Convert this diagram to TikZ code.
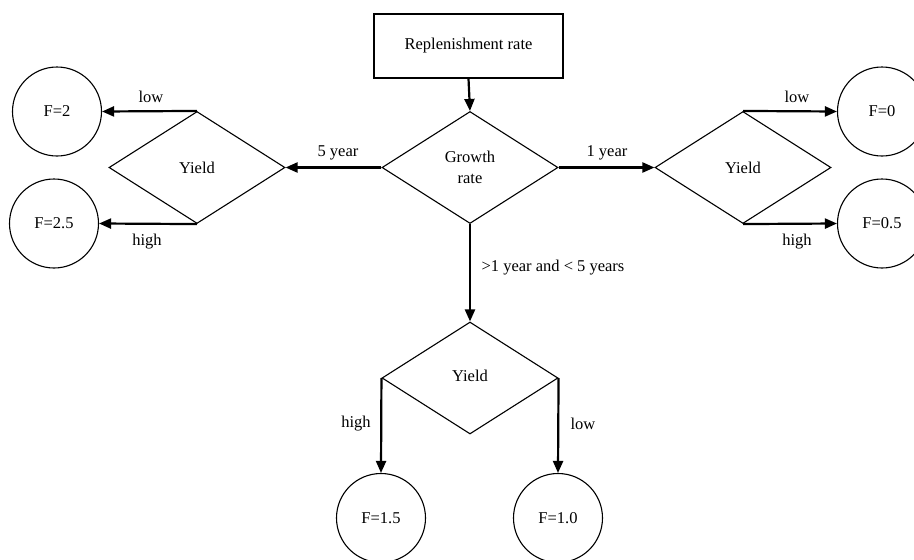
\documentclass[tikz,border=0pt]{standalone}
\usepackage{fontspec}
\setmainfont{Liberation Serif}
\usetikzlibrary{shapes.geometric,arrows.meta}
\begin{document}
\begin{tikzpicture}[x=1pt,y=-1pt,
  every node/.style={font=\fontsize{16.5}{21}\selectfont},
  box/.style={draw,line width=1.1pt,rectangle,minimum width=189pt,minimum height=64pt,inner sep=0pt},
  dec/.style={draw,line width=1.1pt,diamond,minimum width=176pt,minimum height=112pt,inner sep=0pt,align=center},
  res/.style={draw,line width=1.1pt,circle,minimum size=89pt,inner sep=0pt},
  conn/.style={line width=2.2pt,-{Triangle[length=12pt,width=10pt]}},
  lbl/.style={inner sep=0pt}]
\useasboundingbox (0,0) rectangle (914,560);
\fill[white] (0,0) rectangle (914,560);
\node[box] (rep) at (468.5,46) {Replenishment rate};
\node[dec] (gr) at (470,167.5) {Growth\\rate};
\node[dec] (yl) at (197,167.5) {Yield};
\node[dec] (yr) at (743,167.5) {Yield};
\node[dec] (yb) at (470,378) {};
\node at (470,376) {Yield};
\node[res] (f2) at (57,111.5) {F=2};
\node[res] (f25) at (54,223.5) {F=2.5};
\node[res] (f0) at (882,111.5) {F=0};
\node[res] (f05) at (882,223.5) {F=0.5};
\node[res] (f15) at (381,518) {F=1.5};
\node[res] (f10) at (558,518) {F=1.0};
\draw[conn] (rep.south) -- (gr.north);
\draw[conn] (gr.west) -- (yl.east);
\draw[conn] (gr.east) -- (yr.west);
\draw[conn] (gr.south) -- (yb.north);
\draw[conn] (yl.north) -- (f2.east);
\draw[conn] (yl.south) -- (f25.east);
\draw[conn] (yr.north) -- (f0.west);
\draw[conn] (yr.south) -- (f05.west);
\draw[conn] (yb.west) -- (f15.north);
\draw[conn] (yb.east) -- (f10.north);
\node[lbl] at (151,97) {low};
\node[lbl] at (147,242) {high};
\node[lbl] at (338,153) {5 year};
\node[lbl] at (607,153) {1 year};
\node[lbl] at (553,268) {>1 year and < 5 years};
\node[lbl] at (797,97) {low};
\node[lbl] at (797,242) {high};
\node[lbl] at (356,424) {high};
\node[lbl] at (583,424) {low};
\end{tikzpicture}
\end{document}
